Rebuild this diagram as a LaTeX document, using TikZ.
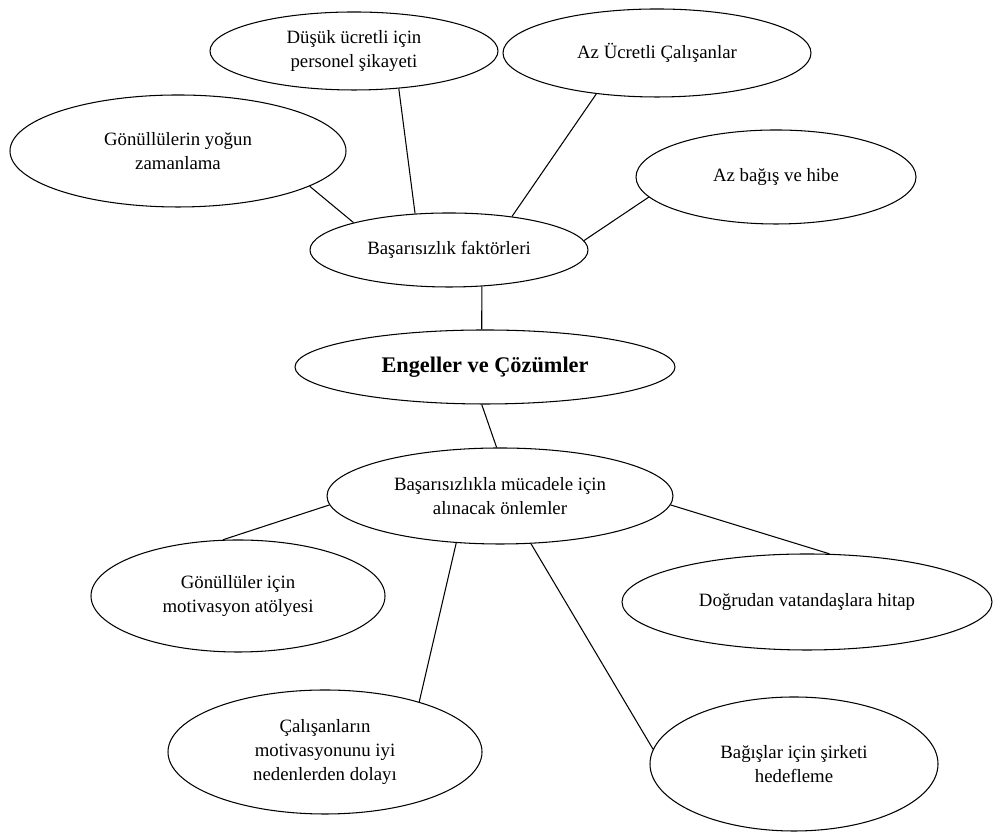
\documentclass[tikz,border=0pt]{standalone}
\usepackage{fontspec}
\setmainfont{Liberation Serif}
\usepackage{tikz}
\usetikzlibrary{shapes.geometric}
\tikzset{bubble/.style={draw, ellipse, inner sep=0pt, align=center, line width=0.6pt, font=\fontsize{10.7}{13.5}\selectfont}}
\begin{document}
\begin{tikzpicture}[line width=0.6pt]
\useasboundingbox (0,0) rectangle (19.86,16.64);
\node[bubble, minimum width=5.76cm, minimum height=1.56cm] (dusuk) at (7.08,15.62) {Düşük ücretli için\\personel şikayeti};
\node[bubble, minimum width=6.16cm, minimum height=1.76cm] (azucret) at (13.14,15.58) {Az Ücretli Çalışanlar};
\node[bubble, minimum width=6.72cm, minimum height=2.24cm] (gonul) at (3.56,13.62) {Gönüllülerin yoğun\\zamanlama};
\node[bubble, minimum width=5.6cm, minimum height=1.88cm] (azbagis) at (15.52,13.10) {Az bağış ve hibe};
\node[bubble, minimum width=5.56cm, minimum height=1.48cm] (basarisiz) at (8.98,11.64) {Başarısızlık faktörleri};
\node[bubble, minimum width=7.6cm, minimum height=1.48cm, font=\fontsize{12.7}{15}\selectfont\bfseries] (engel) at (9.70,9.30) {Engeller ve Çözümler};
\node[bubble, minimum width=6.92cm, minimum height=1.92cm] (mucadele) at (10.00,6.72) {Başarısızlıkla mücadele için\\alınacak önlemler};
\node[bubble, minimum width=5.88cm, minimum height=2.24cm] (gonulmot) at (4.76,4.72) {Gönüllüler için\\motivasyon atölyesi};
\node[bubble, minimum width=7.4cm, minimum height=1.92cm] (dogrudan) at (16.14,4.60) {Doğrudan vatandaşlara hitap};
\node[bubble, minimum width=6.28cm, minimum height=2.48cm] (calisan) at (6.50,1.60) {Çalışanların\\motivasyonunu iyi\\nedenlerden dolayı};
\node[bubble, minimum width=5.76cm, minimum height=2.68cm] (bagis) at (15.88,1.36) {Bağışlar için şirketi\\hedefleme};
\draw (dusuk.-40) -- (basarisiz.133);
\draw (azucret.214) -- (basarisiz.28);
\draw (gonul.-15) -- (basarisiz.164);
\draw (azbagis.189) -- (basarisiz.4);
\draw (basarisiz.-48) -- (engel.95);
\draw (engel.-95) -- (mucadele.94);
\draw (mucadele.183) -- (gonulmot.105);
\draw (mucadele.227) -- (calisan.28);
\draw (mucadele.-57) -- (bagis.174);
\draw (mucadele.-3) -- (dogrudan.65);
\end{tikzpicture}
\end{document}
